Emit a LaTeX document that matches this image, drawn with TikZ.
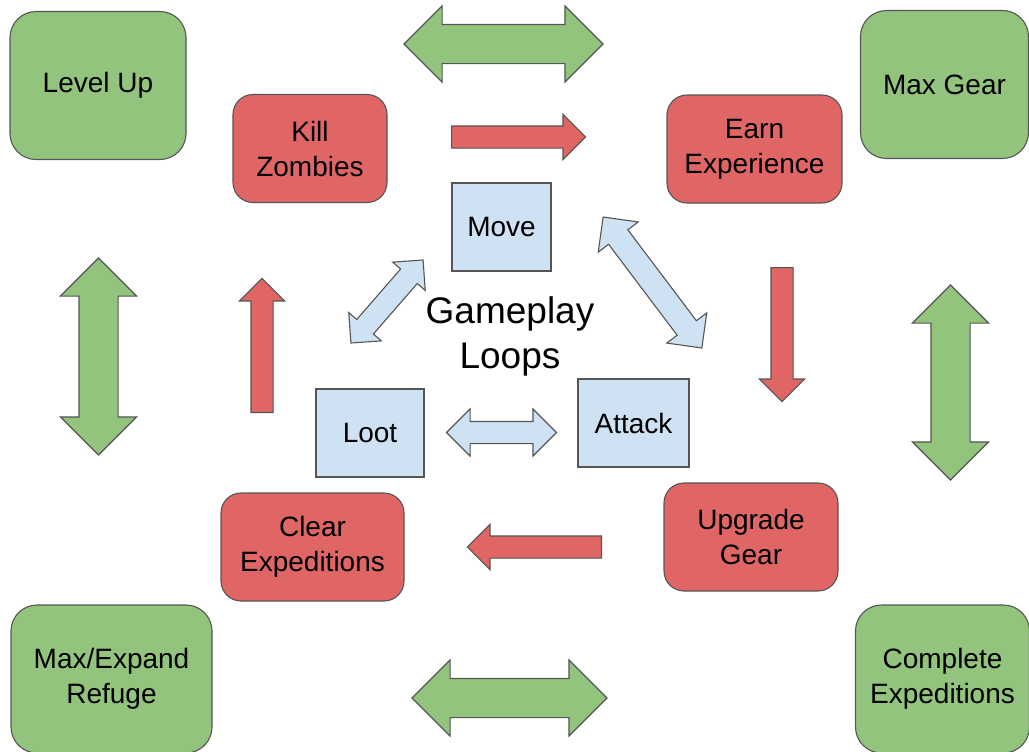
\documentclass[tikz,border=0pt]{standalone}
\usepackage{fontspec}
\setsansfont{Liberation Sans}
\usepackage{tikz}
\usepackage{xcolor}
\usetikzlibrary{shapes.arrows}
\definecolor{GoalFill}{HTML}{93C47D}
\definecolor{TaskFill}{HTML}{E06666}
\definecolor{CoreFill}{HTML}{CFE2F3}
\definecolor{EdgeInk}{HTML}{555555}

\begin{document}
\begin{tikzpicture}[
    x=0.5pt, y=-0.5pt,
    font=\sffamily\fontsize{14}{17.5}\selectfont,
    box/.style={
      draw=EdgeInk,
      line width=0.55pt,
      align=center,
      inner sep=0pt,
    },
    goal/.style={box, fill=GoalFill, rounded corners=13pt, minimum height=74pt},
    task/.style={box, fill=TaskFill, rounded corners=10pt, minimum height=54pt},
    core/.style={box, fill=CoreFill, minimum height=44pt},
    dbl/.style={double arrow, draw=EdgeInk, line width=0.55pt, inner xsep=0pt},
    goalarr/.style={
      dbl, fill=GoalFill,
      inner ysep=9.5pt,
      double arrow head extend=9.25pt,
    },
    corearr/.style={
      dbl, fill=CoreFill,
      inner ysep=5.25pt,
      double arrow head extend=6.25pt,
    },
    taskarr/.style={
      single arrow, anchor=tail,
      draw=EdgeInk, line width=0.55pt,
      inner xsep=0pt, inner ysep=5.25pt,
      fill=TaskFill,
      minimum height=67pt,
      single arrow head extend=5.75pt,
    },
  ]
    \useasboundingbox (0,0) rectangle (1029,751);

    % ---- Outer goals ----
    \node[goal, minimum width=88pt] (lvl) at (98,85.5) {Level Up};
    \node[goal, minimum width=84pt] (maxg) at (944.5,84.5) {Max Gear};
    \node[goal, minimum width=100.5pt] (refuge) at (111.5,679) {Max/Expand\\Refuge};
    \node[goal, minimum width=87pt] (compl) at (942.5,679) {Complete\\Expeditions};

    \node[goalarr, minimum height=99.5pt] (gTop) at (503.5,44) {};
    \node[goalarr, minimum height=97.5pt] (gBot) at (509.5,698) {};
    \node[goalarr, minimum height=98.5pt, rotate=90] (gLeft) at (98.5,356.5) {};
    \node[goalarr, minimum height=97.5pt, rotate=90] (gRight) at (950.5,382.5) {};

    % ---- Progress loop ----
    \node[task, minimum width=77pt] (kill) at (310,148.5) {Kill\\Zombies};
    \node[task, minimum width=87.5pt] (earn) at (754.5,149) {Earn\\Experience};
    \node[task, minimum width=87pt] (upg) at (751,537) {Upgrade\\Gear};
    \node[task, minimum width=91.5pt] (clear) at (312.5,547) {Clear\\Expeditions};

    \foreach \nm/\x/\y/\r in {rTop/451/137/0, rDown/782/267/-90,
                               rBack/602/547/180, rUp/262/413/90} {
      \node[taskarr, rotate=\r] (\nm) at (\x,\y) {};
    }

    % ---- Core loop ----
    \node[core, minimum width=49.5pt] (move) at (501.5,227) {Move};
    \node[core, minimum width=54pt] (loot) at (370,433) {Loot};
    \node[core, minimum width=55.5pt] (atk) at (633.5,423) {Attack};

    \node[font=\sffamily\fontsize{18.5}{22.5}\selectfont, align=center]
      (title) at (510,336) {Gameplay\\Loops};

    \node[corearr, minimum height=55pt,
      double arrow head extend=5.25pt, rotate=49] (bML) at (387,301.5) {};
    \node[corearr, minimum height=82pt, inner ysep=5.75pt,
      double arrow head extend=6.5pt, rotate=-53] (bMA) at (652.5,282.5) {};
    \node[corearr, minimum height=55pt] (bLA) at (501.5,432.5) {};
\end{tikzpicture}
\end{document}
